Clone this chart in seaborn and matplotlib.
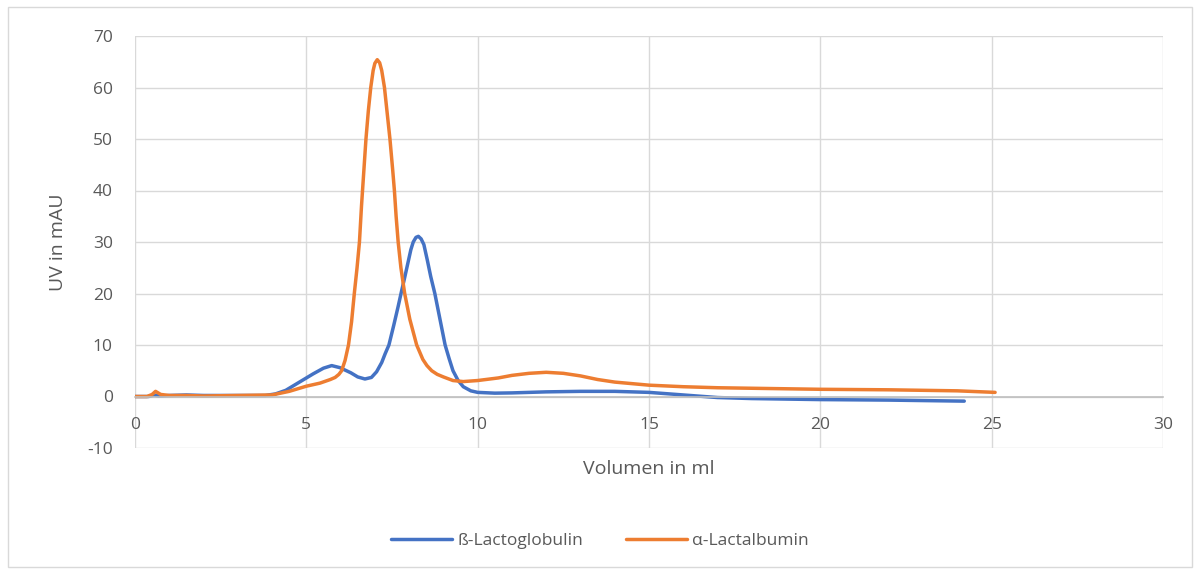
import matplotlib
matplotlib.use("Agg")
import matplotlib.pyplot as plt
import seaborn as sns
import pandas as pd
from matplotlib.patches import Rectangle

# ß-Lactoglobulin
beta_x = [0, 0.4, 0.55, 0.7, 1.0, 1.5, 2.0, 3.0, 3.8, 4.1, 4.4, 4.8, 5.2, 5.5, 5.74, 5.98, 6.3, 6.5, 6.71,
          6.9, 7.05, 7.2, 7.3, 7.41, 7.55, 7.68, 7.78, 7.85, 7.95, 8.05, 8.12, 8.2, 8.27, 8.35, 8.43,
          8.53, 8.63, 8.75, 8.9, 9.05, 9.17, 9.28, 9.43, 9.58, 9.8, 10.0, 10.5, 11.0, 12.0, 13.0,
          14.0, 15.0, 16.0, 17.0, 18.0, 20.0, 22.0, 24.2]
beta_y = [0, 0, 0.3, 0.1, 0.2, 0.3, 0.2, 0.2, 0.2, 0.5, 1.2, 2.8, 4.4, 5.5, 6.0, 5.6, 4.6, 3.8, 3.4,
          3.7, 4.8, 6.6, 8.3, 10.0, 13.8, 17.5, 20.5, 22.5, 25.5, 28.5, 30.0, 30.9, 31.1, 30.6, 29.5,
          26.5, 23.3, 20.0, 15.0, 10.0, 7.3, 5.0, 3.1, 1.9, 1.1, 0.8, 0.65, 0.7, 0.9, 1.0,
          1.0, 0.8, 0.3, -0.2, -0.4, -0.6, -0.7, -0.9]

# α-Lactalbumin
alpha_x = [0, 0.35, 0.5, 0.6, 0.75, 1.0, 1.5, 2.0, 3.0, 4.0, 4.5, 5.0, 5.4, 5.7, 5.84, 5.95, 6.03, 6.13,
           6.23, 6.32, 6.40, 6.48, 6.55, 6.61, 6.68, 6.74, 6.81, 6.88, 6.95, 7.0, 7.07, 7.14, 7.2, 7.28,
           7.36, 7.44, 7.52, 7.57, 7.62, 7.68, 7.76, 7.87, 8.02, 8.22, 8.4, 8.52, 8.66, 8.82, 9.0, 9.28,
           9.58, 10.0, 10.6, 11.0, 11.5, 12.0, 12.5, 13.0, 13.5, 14.0, 15.0, 16.0, 17.0, 18.0, 20.0,
           22.0, 23.0, 24.0, 25.1]
alpha_y = [0, 0, 0.4, 1.0, 0.4, 0.2, 0.2, 0.1, 0.2, 0.3, 1.0, 2.0, 2.6, 3.3, 3.7, 4.3, 5.0, 7.0,
           10.0, 14.5, 20.0, 25.0, 30.0, 37.0, 44.0, 50.0, 55.5, 60.0, 63.3, 64.7, 65.4, 64.8, 63.3, 60.0,
           55.0, 50.0, 44.0, 40.0, 35.0, 30.0, 25.0, 20.0, 15.0, 10.0, 7.2, 6.0, 5.0, 4.3, 3.8, 3.1,
           2.9, 3.1, 3.6, 4.1, 4.5, 4.7, 4.5, 4.0, 3.3, 2.8, 2.2, 1.9, 1.7, 1.6, 1.4,
           1.3, 1.2, 1.1, 0.8]

df = pd.concat([
    pd.DataFrame({"x": beta_x, "y": beta_y, "s": "ß-Lactoglobulin"}),
    pd.DataFrame({"x": alpha_x, "y": alpha_y, "s": "α-Lactalbumin"}),
])

sns.set_theme(style="white")
plt.rcParams["font.family"] = ["Open Sans", "DejaVu Sans"]
plt.rcParams["axes.unicode_minus"] = False

fig = plt.figure(figsize=(12, 5.74), dpi=100)
ax = fig.add_axes([135 / 1200, 1 - 448 / 574, (1163 - 135) / 1200, (448 - 36) / 574])

palette = {"ß-Lactoglobulin": "#4472C4", "α-Lactalbumin": "#ED7D31"}
sns.lineplot(data=df, x="x", y="y", hue="s", palette=palette, ax=ax, linewidth=2.5,
             sort=False, estimator=None, legend=True)
for ln in ax.lines:
    ln.set_solid_joinstyle("round")
    ln.set_solid_capstyle("round")

ax.set_xlim(0, 30)
ax.set_ylim(-10, 70)
ax.set_xticks(range(0, 31, 5))
ax.set_yticks(range(-10, 71, 10))
ax.grid(True, color="#d9d9d9", linewidth=1.0)
ax.set_axisbelow(True)
for s in ["top", "right", "left"]:
    ax.spines[s].set_visible(False)
ax.spines["bottom"].set_position(("data", 0))
ax.spines["bottom"].set_color("#bfbfbf")
ax.spines["bottom"].set_linewidth(1.2)
ax.tick_params(axis="both", length=0, labelsize=12.5, labelcolor="#595959")
ax.tick_params(axis="x", pad=15)
ax.tick_params(axis="y", pad=16)

ax.set_xlabel("")
ax.set_ylabel("UV in mAU", fontsize=14, color="#595959")
ax.yaxis.set_label_coords((67 - 135) / 1028, 0.5)
fig.text((135 + 1163) / 2 / 1200, 1 - 469 / 574, "Volumen in ml", ha="center", va="center",
         fontsize=14, color="#595959")

handles, labels = ax.get_legend_handles_labels()
ax.legend(handles, labels, loc="center", bbox_to_anchor=(0.5, 1 - 541 / 574), bbox_transform=fig.transFigure,
          ncol=2, frameon=False, fontsize=12.5, labelcolor="#595959", handlelength=3.5, columnspacing=2.5,
          handletextpad=0.3)

fig.patches.append(Rectangle((8 / 1200, 1 - 567 / 574), 1184 / 1200, 560 / 574, transform=fig.transFigure,
                             fill=False, edgecolor="#d9d9d9", linewidth=1.0))

fig.savefig("out.png", dpi=100, facecolor="white")
